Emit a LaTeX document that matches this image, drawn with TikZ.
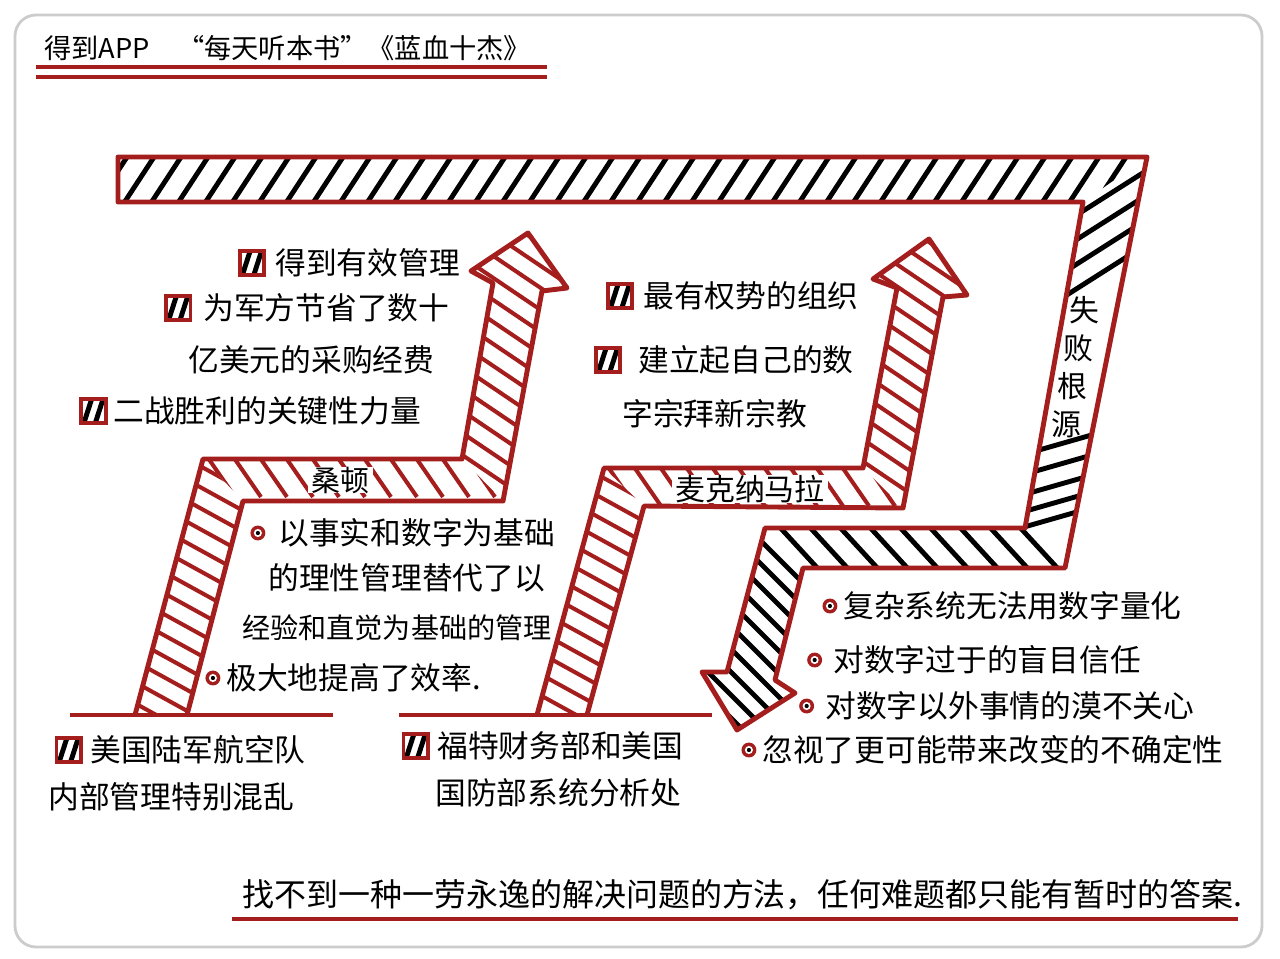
\documentclass[tikz,border=0pt]{standalone}
\usepackage{fontspec}
\setmainfont{Noto Sans CJK SC}
\usetikzlibrary{positioning, calc}
\definecolor{arrowred}{RGB}{165,30,30}
\tikzset{
  outline/.style={draw=arrowred, line width=2.8pt, line join=round},
  redhatch/.style={draw=arrowred, line width=2.3pt},
  blackhatch/.style={draw=black, line width=2.8pt},
  txt/.style={anchor=west, inner sep=0pt, font=\fontsize{17.5}{20}\selectfont},
  tag/.style={fill=white, inner xsep=2pt, inner ysep=0pt, font=\fontsize{17}{20}\selectfont},
  legendbox/.style={draw=arrowred, line width=2.2pt, fill=white, minimum size=14pt, inner sep=0pt,
    path picture={\draw[black, line width=2.8pt]
      ([xshift=-6pt, yshift=-8.5pt]path picture bounding box.center) -- ++(5.5pt,17pt)
      ([xshift=0.5pt, yshift=-8.5pt]path picture bounding box.center) -- ++(5.5pt,17pt);}},
  dotmark/.style={circle, fill=arrowred, minimum size=8.5pt, inner sep=0pt,
    path picture={\fill[white] (path picture bounding box.center) circle (2.3pt);
      \fill[black] (path picture bounding box.center) circle (1.2pt);}}
}

\begin{document}
\begin{tikzpicture}[x=0.02cm, y=-0.02cm]
    \useasboundingbox (0,0) rectangle (1280,959);
    % frame
    \draw[black!20, line width=1.6pt, rounded corners=12pt] (15,15) rectangle (1262,947);

    % title
    \node[txt, font=\fontsize{15.5}{18}\selectfont] (title) at (44,48) {得到APP\hspace{1em}“每天听本书”《蓝血十杰》};
    \draw[outline, line width=2.4pt] (36,67) -- (547,67);
    \draw[outline, line width=2.4pt] (36,77) -- (547,77);

    % failure band (black hatch)
    \coordinate (ftl) at (118,157);
    \coordinate (ftr) at (1147,157);
    \coordinate (fbr) at (1065,568);
    \coordinate (fbb) at (803,568);
    \coordinate (fsb) at (775,680);
    \coordinate (fhr) at (795,693);
    \coordinate (ftip) at (737,730);
    \coordinate (fhl) at (702,672);
    \coordinate (fsl) at (727,672);
    \coordinate (fbt) at (765,528);
    \coordinate (fic) at (1025,528);
    \coordinate (fit) at (1083,202);
    \coordinate (fbl) at (118,202);

    \begin{scope}
      \clip (ftl) -- (ftr) -- (fit) -- (fbl) -- cycle;
      \foreach \c in {95,122,...,1160}
        \draw[blackhatch] (\c,206) -- ++(34,-52);
    \end{scope}
    \begin{scope}
      \clip (ftr) -- (fbr) -- (fic) -- (fit) -- cycle;
      \foreach \t in {0.03,0.115,0.2,0.285}
        \draw[blackhatch] ($(fit)!\t!(fic)$) ++(-20,13) -- ++(140,-89);
      \foreach \t in {0.76,0.825,0.89,0.945,0.995}
        \draw[blackhatch] ($(fit)!\t!(fic)$) ++(-20,6) -- ++(140,-40);
    \end{scope}
    \begin{scope}
      \clip (fbt) -- (fic) -- (fbr) -- (fbb) -- cycle;
      \foreach \c in {745,775,...,1075}
        \draw[blackhatch] (\c,522) -- ++(46,50);
    \end{scope}
    \begin{scope}
      \clip (fbt) -- (fbb) -- (fsb) -- (fhr) -- (ftip) -- (fhl) -- (fsl) -- cycle;
      \foreach \c in {-220,-197,...,0}
        \draw[blackhatch] (680,680+\c) -- (860,860+\c);
    \end{scope}
    \draw[outline] (ftl) -- (ftr) -- (fbr) -- (fbb) -- (fsb) -- (fhr) -- (ftip) -- (fhl) -- (fsl)
      -- (fbt) -- (fic) -- (fit) -- (fbl) -- cycle;

    % Thornton arrow
    \coordinate (a1) at (135,715);
    \coordinate (a2) at (203,459);
    \coordinate (a3) at (462,459);
    \coordinate (a4) at (493,283);
    \coordinate (a5) at (471,271);
    \coordinate (a6) at (528,233);
    \coordinate (a7) at (567,288);
    \coordinate (a8) at (542,291);
    \coordinate (a9) at (503,501);
    \coordinate (a10) at (243,501);
    \coordinate (a11) at (187,715);
    \begin{scope}
      \clip (a1) -- (a2) -- (a10) -- (a11) -- cycle;
      \foreach \c in {390,411,...,710}
        \draw[redhatch] (100,\c) -- (260,\c+88);
    \end{scope}
    \begin{scope}
      \clip (a2) -- (a3) -- (a9) -- (a10) -- cycle;
      \foreach \c in {180,206,...,520}
        \draw[redhatch] (\c,455) -- ++(29,42);
    \end{scope}
    \begin{scope}
      \clip (a3) -- (a4) -- (a5) -- (a6) -- (a7) -- (a8) -- (a9) -- cycle;
      \foreach \c in {176,198,...,462}
        \draw[redhatch] (440,\c) -- (580,\c+94.5);
    \end{scope}
    \draw[outline] (a1) -- (a2) -- (a3) -- (a4) -- (a5) -- (a6) -- (a7) -- (a8) -- (a9) -- (a10) -- (a11);
    \draw[outline] (70,715) -- (333,715);

    % McNamara arrow
    \coordinate (b1) at (537,715);
    \coordinate (b2) at (604,468);
    \coordinate (b3) at (863,468);
    \coordinate (b4) at (897,288);
    \coordinate (b5) at (873,279);
    \coordinate (b6) at (929,239);
    \coordinate (b7) at (967,295);
    \coordinate (b8) at (943,297);
    \coordinate (b9) at (903,508);
    \coordinate (b10) at (644,506);
    \coordinate (b11) at (587,715);
    \begin{scope}
      \clip (b1) -- (b2) -- (b10) -- (b11) -- cycle;
      \foreach \c in {400,421,...,710}
        \draw[redhatch] (500,\c) -- (660,\c+88);
    \end{scope}
    \begin{scope}
      \clip (b2) -- (b3) -- (b9) -- (b10) -- cycle;
      \foreach \c in {580,606,...,930}
        \draw[redhatch] (\c,464) -- ++(29,42);
    \end{scope}
    \begin{scope}
      \clip (b3) -- (b4) -- (b5) -- (b6) -- (b7) -- (b8) -- (b9) -- cycle;
      \foreach \c in {182,204,...,470}
        \draw[redhatch] (840,\c) -- (980,\c+94.5);
    \end{scope}
    \draw[outline] (b1) -- (b2) -- (b3) -- (b4) -- (b5) -- (b6) -- (b7) -- (b8) -- (b9) -- (b10) -- (b11);
    \draw[outline] (399,715) -- (712,715);

    % band labels
    \node[tag, font=\fontsize{16.5}{20}\selectfont] (thornton) at (340,480) {桑顿};
    \node[tag] (mcnamara) at (750,489) {麦克纳马拉};
    \foreach \ch [count=\i] in {失,败,根,源}
      \node[inner sep=0pt, font=\fontsize{17}{20}\selectfont] (fail\i) at ({1090-6*\i},{272+38*\i}) {\ch};

    % Thornton texts
    \node[txt] (gain) at (275,263) {得到有效管理};
    \node[legendbox, left=5pt of gain] (gainbox) {};
    \node[txt] (save) at (203,308) {为军方节省了数十};
    \node[legendbox, left=6pt of save] (savebox) {};
    \node[txt] (save2) at (188,360) {亿美元的采购经费};
    \node[txt] (ww) at (113,411) {二战胜利的关键性力量};
    \node[legendbox, left=3pt of ww] (wwbox) {};
    \node[txt] (fact) at (278,533) {以事实和数字为基础};
    \node[dotmark, left=7pt of fact] (factdot) {};
    \node[txt] (fact2) at (268,578) {的理性管理替代了以};
    \node[txt, font=\fontsize{16}{20}\selectfont] (fact3) at (242,628) {经验和直觉为基础的管理};
    \node[txt] (speed) at (226,678) {极大地提高了效率.};
    \node[dotmark, left=3pt of speed] (speeddot) {};
    \node[txt] (army) at (90,750) {美国陆军航空队};
    \node[legendbox, left=4pt of army] (armybox) {};
    \node[txt] (army2) at (48,797) {内部管理特别混乱};

    % McNamara texts
    \node[txt] (power) at (643,296) {最有权势的组织};
    \node[legendbox, left=5pt of power] (powerbox) {};
    \node[txt] (cult) at (638,360) {建立起自己的数};
    \node[legendbox, left=9pt of cult] (cultbox) {};
    \node[txt] (cult2) at (622,414) {字宗拜新宗教};
    \node[txt] (ford) at (437,746) {福特财务部和美国};
    \node[legendbox, left=4pt of ford] (fordbox) {};
    \node[txt] (ford2) at (435,793) {国防部系统分析处};

    % failure texts
    \node[txt] (flaw) at (843,606) {复杂系统无法用数字量化};
    \node[dotmark, left=3pt of flaw] (flawdot) {};
    \node[txt] (trust) at (833,660) {对数字过于的盲目信任};
    \node[dotmark, left=6pt of trust] (trustdot) {};
    \node[txt] (ignore) at (825,706) {对数字以外事情的漠不关心};
    \node[dotmark, left=6pt of ignore] (ignoredot) {};
    \node[txt] (doubt) at (762,750) {忽视了更可能带来改变的不确定性};
    \node[dotmark, left=3pt of doubt] (doubtdot) {};

    % moral
    \node[txt, font=\fontsize{18.2}{20}\selectfont] (moral) at (242,895) {找不到一种一劳永逸的解决问题的方法，任何难题都只能有暂时的答案.};
    \draw[outline, line width=2.4pt] (232,919) -- (1238,919);
\end{tikzpicture}
\end{document}
